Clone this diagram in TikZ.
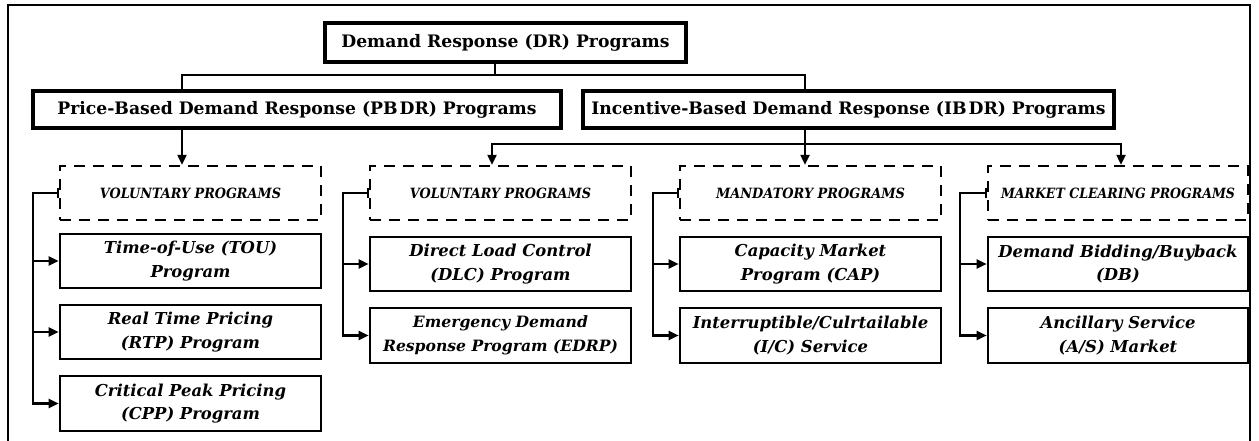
\documentclass[tikz,border=0pt]{standalone}
\usepackage{fontspec}
\usepackage{graphicx}
\setmainfont{DejaVu Serif}
\usetikzlibrary{arrows.meta}
% group headings: bold italic capitals stretched to a given width
\newcommand\grouptitle[2]{\resizebox{#1}{10.5pt}{\bfseries\itshape #2}}
\begin{document}
\begin{tikzpicture}[x=1pt,y=-1pt,
  topbox/.style={draw, line width=3.2pt, inner sep=0pt,
    font=\bfseries\fontsize{17.2}{20}\selectfont},
  groupbox/.style={draw, line width=2.4pt, dash pattern=on 11pt off 8pt, inner sep=0pt},
  leafbox/.style={draw, line width=2.6pt, inner sep=0pt, align=center,
    font=\bfseries\itshape\fontsize{16.4}{23.5}\selectfont},
  link/.style={line width=2.2pt},
  arr/.style={link, -{Triangle[length=10pt,width=9pt]}},
  teearr/.style={link, {Bar[width=10pt,line width=2.2pt]}-{Triangle[length=10pt,width=9pt]}},
  bothar/.style={link, {Triangle[length=10pt,width=9pt]}-{Triangle[length=10pt,width=9pt]}}
]
\useasboundingbox (0,0) rectangle (1259,441);
% outer frame (open at the bottom)
\draw[line width=2.5pt] (8,450) -- (8,5) -- (1250,5) -- (1250,450);

% top levels
\node[topbox, minimum width=361pt, minimum height=39pt] (dr) at (505.5,42.5) {Demand Response (DR) Programs};
\node[topbox, minimum width=528pt, minimum height=37pt] (pb) at (297,109.5) {Price-Based Demand Response (PB\kern2pt DR) Programs};
\node[topbox, minimum width=531pt, minimum height=37pt] (ib) at (848.5,109.5) {Incentive-Based Demand Response (IB\kern2pt DR) Programs};

% program groups
\node[groupbox, minimum width=261pt, minimum height=54pt] (v1) at (190.5,193) {\grouptitle{181pt}{VOLUNTARY PROGRAMS}};
\node[groupbox, minimum width=261pt, minimum height=54pt] (v2) at (500.5,193) {\grouptitle{181pt}{VOLUNTARY PROGRAMS}};
\node[groupbox, minimum width=261pt, minimum height=54pt] (md) at (810.5,193) {\grouptitle{189pt}{MANDATORY PROGRAMS}};
\node[groupbox, minimum width=260pt, minimum height=54pt] (mc) at (1118,193) {\grouptitle{234pt}{MARKET CLEARING PROGRAMS}};

% individual programs
\node[leafbox, minimum width=261pt, minimum height=54pt] (tou) at (190.5,261) {Time-of-Use (TOU)\\Program};
\node[leafbox, minimum width=261pt, minimum height=54pt] (rtp) at (190.5,332) {Real Time Pricing\\(RTP) Program};
\node[leafbox, minimum width=261pt, minimum height=55pt] (cpp) at (190.5,403.5) {Critical Peak Pricing\\(CPP) Program};
\node[leafbox, minimum width=261pt, minimum height=54pt] (dlc) at (500.5,264) {Direct Load Control\\(DLC) Program};
\node[leafbox, minimum width=261pt, minimum height=55pt, font=\bfseries\itshape\fontsize{15.6}{23.5}\selectfont] (edrp) at (500.5,335.5) {Emergency Demand\\Response Program (EDRP)};
\node[leafbox, minimum width=261pt, minimum height=54pt] (cap) at (810.5,264) {Capacity Market\\Program (CAP)};
\node[leafbox, minimum width=261pt, minimum height=55pt] (ic) at (810.5,335.5) {Interruptible/Culrtailable\\(I/C) Service};
\node[leafbox, minimum width=260pt, minimum height=54pt] (db) at (1118,264) {Demand Bidding/Buyback\\(DB)};
\node[leafbox, minimum width=260pt, minimum height=55pt] (asm) at (1118,335.5) {Ancillary Service\\(A/S) Market};

% junction points
\coordinate (j0) at (495,75);
\coordinate (jp) at (182,75);
\coordinate (ji) at (805,75);
\coordinate (kl) at (492,144);
\coordinate (kr) at (1121,144);
\coordinate (c1) at (33,193);
\coordinate (c2) at (343,193);
\coordinate (c3) at (653,193);
\coordinate (c4) at (960,193);

% top-level split
\draw[link] (dr.south -| j0) -- (j0);
\draw[link] (pb.north -| jp) -- (jp) -- (ji) -- (ib.north -| ji);
\draw[arr] (pb.south -| jp) -- (v1.north -| jp);
\draw[arr] (ib.south -| ji) -- (md.north -| ji);
\draw[bothar] (v2.north -| kl) -- (kl) -- (kr) -- (mc.north -| kr);

% group members
\draw[teearr] (v1.west) -- (c1) -- (cpp.west -| c1) -- (cpp.west);
\draw[arr] (tou.west -| c1) -- (tou.west);
\draw[arr] (rtp.west -| c1) -- (rtp.west);
\draw[teearr] (v2.west) -- (c2) -- (edrp.west -| c2) -- (edrp.west);
\draw[arr] (dlc.west -| c2) -- (dlc.west);
\draw[teearr] (md.west) -- (c3) -- (ic.west -| c3) -- (ic.west);
\draw[arr] (cap.west -| c3) -- (cap.west);
\draw[teearr] (mc.west) -- (c4) -- (asm.west -| c4) -- (asm.west);
\draw[arr] (db.west -| c4) -- (db.west);
\end{tikzpicture}
\end{document}
